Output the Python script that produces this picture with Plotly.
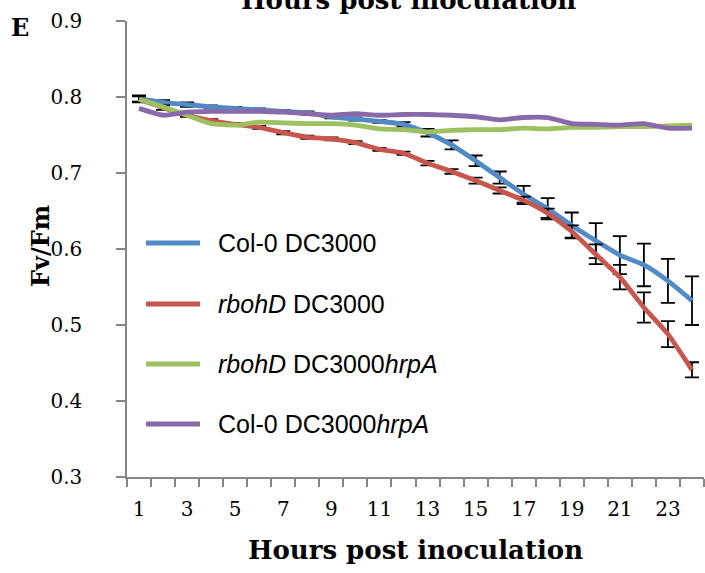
import plotly.graph_objects as go

hours = list(range(1, 25))
tick_hours = list(range(1, 24, 2))
tick_labels = [str(h) for h in tick_hours]

col0_dc3000 = [0.798, 0.793, 0.790, 0.787, 0.785, 0.783, 0.781, 0.779, 0.774, 0.771, 0.768, 0.764,
               0.753, 0.737, 0.716, 0.694, 0.672, 0.653, 0.631, 0.611, 0.592, 0.579, 0.558, 0.532]
col0_dc3000_err = [0.004, 0.003, 0.003, 0.002, 0.002, 0.002, 0.002, 0.002, 0.002, 0.002, 0.002, 0.003,
                   0.005, 0.006, 0.007, 0.008, 0.011, 0.014, 0.017, 0.023, 0.025, 0.028, 0.029, 0.032]
rbohd_dc3000 = [0.797, 0.786, 0.776, 0.769, 0.764, 0.760, 0.753, 0.747, 0.745, 0.740, 0.731, 0.726,
                0.713, 0.702, 0.690, 0.677, 0.664, 0.647, 0.623, 0.593, 0.563, 0.523, 0.488, 0.441]
rbohd_dc3000_err = [0.004, 0.003, 0.002, 0.002, 0.002, 0.002, 0.002, 0.002, 0.002, 0.002, 0.002, 0.002,
                    0.003, 0.003, 0.004, 0.004, 0.005, 0.006, 0.008, 0.013, 0.016, 0.020, 0.017, 0.010]
rbohd_hrpa = [0.797, 0.787, 0.776, 0.765, 0.763, 0.767, 0.766, 0.765, 0.765, 0.763, 0.758, 0.757,
              0.754, 0.756, 0.757, 0.757, 0.759, 0.758, 0.760, 0.760, 0.761, 0.761, 0.762, 0.763]
col0_hrpa = [0.785, 0.776, 0.780, 0.781, 0.781, 0.781, 0.780, 0.778, 0.776, 0.778, 0.776, 0.777,
             0.777, 0.776, 0.774, 0.770, 0.773, 0.773, 0.765, 0.764, 0.763, 0.765, 0.759, 0.759]

series_names = ["Col-0 DC3000", "<i>rbohD</i> DC3000", "<i>rbohD</i> DC3000<i>hrpA</i>",
                "Col-0 DC3000<i>hrpA</i>"]
series_values = [col0_dc3000, rbohd_dc3000, rbohd_hrpa, col0_hrpa]
series_errors = [col0_dc3000_err, rbohd_dc3000_err, None, None]
colors = ["#5289C7", "#C9554F", "#9DC060", "#8869AA"]

SERIF = "DejaVu Serif"
SANS = "Liberation Sans"
AXC = "#868686"

fig = go.Figure()
for name, vals, err, col in zip(series_names, series_values, series_errors, colors):
    kw = {}
    if err is not None:
        kw["error_y"] = dict(type="data", array=err, visible=True, color="black",
                             thickness=1.8, width=7)
    fig.add_trace(go.Scatter(x=hours, y=vals, mode="lines", name=name,
                             line=dict(color=col, width=4.8, shape="spline", smoothing=0.5),
                             showlegend=False, cliponaxis=False, **kw))

# legend drawn in-plot
L, R, T, B = 127, 704, 21, 477
def px(x):
    return (x - L) / (R - L)
def py(y):
    return (B - y) / (B - T)

leg_y = [243, 304, 364, 424]
for name, col, yy in zip(series_names, colors, leg_y):
    fig.add_shape(type="line", xref="paper", yref="paper", x0=px(146), x1=px(200),
                  y0=py(yy), y1=py(yy), line=dict(color=col, width=5))
    fig.add_annotation(xref="paper", yref="paper", x=px(216), y=py(yy), text=name,
                       showarrow=False, xanchor="left", yanchor="middle",
                       font=dict(family=SANS, size=25, color="black"))

fig.add_annotation(xref="paper", yref="paper", x=px(408), y=py(0), text="<b>Hours post inoculation</b>",
                   showarrow=False, xanchor="center", yanchor="middle",
                   font=dict(family=SERIF, size=26, color="black"))
fig.add_annotation(xref="paper", yref="paper", x=px(20), y=py(27), text="<b>E</b>",
                   showarrow=False, xanchor="center", yanchor="middle",
                   font=dict(family=SERIF, size=24, color="black"))
fig.add_annotation(xref="paper", yref="paper", x=px(40), y=py(246), text="<b>Fv/Fm</b>",
                   textangle=-90, showarrow=False, xanchor="center", yanchor="middle",
                   font=dict(family=SERIF, size=24, color="black"))

fig.update_layout(
    width=705, height=573,
    margin=dict(l=L, r=705 - R, t=T, b=573 - B, autoexpand=False),
    paper_bgcolor="white", plot_bgcolor="white",
    xaxis=dict(range=[0.5, 24.5], tickmode="array", tickvals=tick_hours, ticktext=tick_labels,
               ticks="", showgrid=False, zeroline=False, showline=True, linecolor=AXC, linewidth=1.5,
               automargin=False,
               minor=dict(tickvals=[h - 0.5 for h in hours] + [24.5], ticks="outside", ticklen=8,
                          tickcolor=AXC, tickwidth=1.5, showgrid=False),
               tickfont=dict(family=SERIF, size=20, color="black"), ticklabelstandoff=13,
               title=dict(text="<b>Hours post inoculation</b>", standoff=21,
                          font=dict(family=SERIF, size=26, color="black"))),
    yaxis=dict(range=[0.3, 0.9], dtick=0.1, tick0=0.3, tickformat=".1f", ticks="outside", ticklen=9,
               tickcolor=AXC, tickwidth=1.5, showgrid=False, zeroline=False, showline=True,
               linecolor=AXC, linewidth=1.5, automargin=False,
               tickfont=dict(family=SERIF, size=20, color="black"), ticklabelstandoff=30),
)

fig.write_html("out.html", config={"displayModeBar": False},
               post_script="document.body.style.margin='0';document.body.style.overflow='hidden';")
